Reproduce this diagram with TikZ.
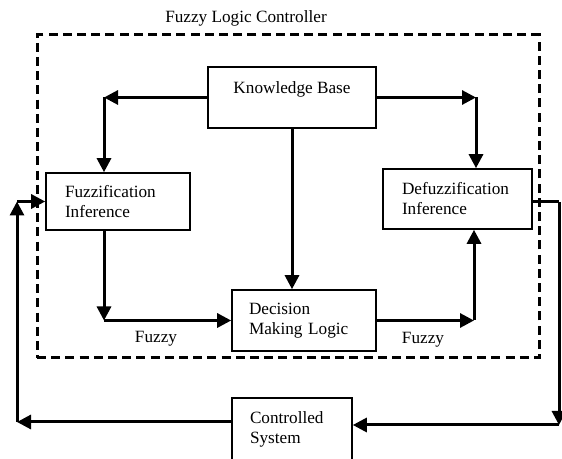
\documentclass[tikz,border=0pt]{standalone}
\usepackage{fontspec}
\setmainfont{Liberation Serif}
\usetikzlibrary{arrows.meta, positioning}

\begin{document}
\begin{tikzpicture}[
  x=0.5pt, y=-0.5pt,
  every node/.style={font=\fontsize{8.6}{10}\selectfont},
  block/.style={draw, line width=0.8pt, align=left, inner ysep=2pt},
  frame/.style={draw, line width=1.5pt, dash pattern=on 4.5pt off 2.6pt, minimum width=251pt, minimum height=161.5pt},
  arr/.style={-{Triangle[length=7pt, width=7pt]}, line width=1.5pt},
  wire/.style={line width=1.5pt}
]
  \clip (0,0) rectangle (562,459);
  \useasboundingbox (0,0) rectangle (562,459);

  % Controller frame
  \node[frame] (flc) at (288,196.5) {};
  \node (title) at (246,18) {Fuzzy Logic Controller};

  % Blocks
  \node[block, minimum width=84pt, minimum height=30.5pt, align=center] (kb) at (292,97.5) {Knowledge Base\\ \mbox{}};
  \node[block, text width=53pt, inner xsep=9.5pt, minimum height=28.5pt] (fuzz) at (118,201.5) {Fuzzification\\Inference};
  \node[block, text width=55.5pt, inner xsep=9.5pt, minimum height=30pt] (defuzz) at (457.5,199) {Defuzzification\\Inference};
  \node[block, text width=55pt, inner xsep=8.5pt, minimum height=30.5pt] (dml) at (304,320.5) {Decision\\Making Logic};
  \node[block, text width=42pt, inner xsep=9pt, minimum height=31pt] (cs) at (292,429) {Controlled\\System};

  \node (fz1) at (156,339) {Fuzzy};
  \node (fz2) at (423,340) {Fuzzy};

  % Corners
  \coordinate (c1) at (104,97.5);
  \coordinate (c2) at (476,97.5);
  \coordinate (c3) at (104,320.5);
  \coordinate (c4) at (474,320.5);
  \coordinate (c5) at (559,202);
  \coordinate (c6) at (559,425);
  \coordinate (c7) at (17,422);
  \coordinate (c8) at (17,201.5);

  % Arrows
  \draw[arr] (kb.west) -- (c1);
  \draw[arr] (c1) -- (c1 |- fuzz.north);
  \draw[arr] (kb.east) -- (c2);
  \draw[arr] (c2) -- (c2 |- defuzz.north);
  \draw[arr] (kb.south) -- (dml.north -| kb.south);
  \draw[arr] (c1 |- fuzz.south) -- (c3);
  \draw[arr] (c3) -- (dml.west);
  \draw[arr] (dml.east) -- (c4);
  \draw[arr] (c4) -- (c4 |- defuzz.south);
  \draw[wire] (defuzz.east |- c5) -- (c5);
  \draw[arr] (c5) -- (c6);
  \draw[arr] (c6) -- (cs.east |- c6);
  \draw[arr] (cs.west |- c7) -- (c7);
  \draw[arr] (c7) -- (c8);
  \draw[arr] (c8) -- (fuzz.west);
\end{tikzpicture}
\end{document}
